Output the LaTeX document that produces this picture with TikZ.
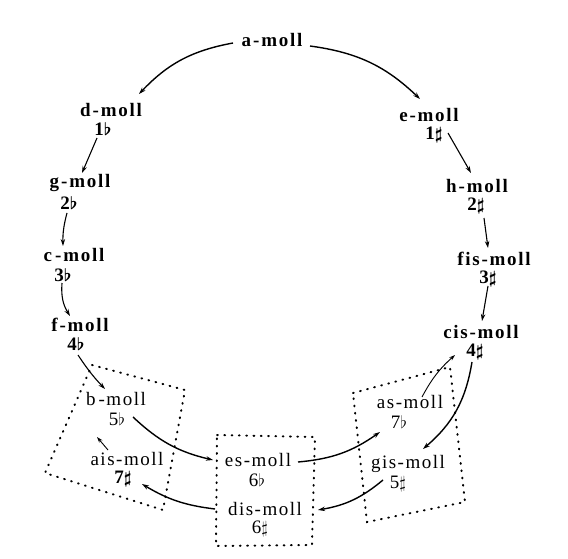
\documentclass[tikz,border=0pt]{standalone}
\usepackage{fontspec}
\usetikzlibrary{arrows.meta,calc}
\newfontfamily\bfam[LetterSpace=9]{Liberation Serif}
\newfontfamily\rfam[LetterSpace=8]{Liberation Serif}
\tikzset{
  bk/.style={font=\fontsize{19}{21}\selectfont\bfam\bfseries\boldmath, inner sep=1pt},
  rk/.style={font=\fontsize{19}{21}\selectfont\rfam, inner sep=1pt},
  arr/.style={-{Stealth[length=7pt,width=4.5pt]}, line width=1.4pt},
  marr/.style={-{Stealth[length=7pt,width=4.5pt]}, line width=1.1pt},
  tarr/.style={-{Stealth[length=6pt,width=4pt]}, line width=0.9pt},
  dotbox/.style={line width=2pt, dash pattern=on 0.8pt off 6.5pt, line cap=round}
}
\begin{document}
\begin{tikzpicture}[x=1pt,y=1pt]
\useasboundingbox (0,0) rectangle (568,558);
% left side
\node[bk] (a) at (272,518) {a\kern2pt-\kern2pt moll};
\node[bk] (d) at (111,448) {d\kern2pt-\kern2pt moll};
\node[bk] (d2) at (103,429) {1$\flat$};
\node[bk] (g) at (80,375) {g\kern2pt-\kern2pt moll};
\node[bk] (g2) at (69,355) {2$\flat$};
\node[bk] (c) at (74,303) {c\kern3pt-\kern2pt moll};
\node[bk] (c2) at (63,283) {3$\flat$};
\node[bk] (f) at (80,233) {f\kern2pt-moll};
\node[bk] (f2) at (76,214) {4$\flat$};
\node[rk] (b) at (116,159) {b\kern3pt-moll};
\node[rk] (b2) at (117,139) {5$\flat$};
\node[rk] (ais) at (127,99) {ais-moll};
\node[bk] (ais2) at (123,79) {7$\sharp$};
% right side
\node[bk] (e) at (429,443) {e-moll};
\node[bk] (e2) at (434,423) {1$\sharp$};
\node[bk] (h) at (477,372) {h\kern2pt-\kern2pt moll};
\node[bk] (h2) at (476,352) {2$\sharp$};
\node[bk] (fis) at (494,299) {fis-moll};
\node[bk] (fis2) at (488,279) {3$\sharp$};
\node[bk] (cis) at (481,226) {cis-moll};
\node[bk] (cis2) at (475,206) {4$\sharp$};
\node[rk] (as) at (410,156) {as-moll};
\node[rk] (as2) at (399,136) {7$\flat$};
\node[rk] (gis) at (408,94) {gis-moll};
\node[rk] (gis2) at (398,74) {5$\sharp$};
% middle
\node[rk] (es) at (258,98) {es-moll};
\node[rk] (es2) at (257,78) {6$\flat$};
\node[rk] (dis) at (265,49) {dis-moll};
\node[rk] (dis2) at (260,29) {6$\sharp$};
\coordinate (aisend) at (97,121);
% dotted frames
\draw[dotbox] (92,193) -- (185,168) -- (163,48) -- (45,85) -- cycle;
\draw[dotbox] (217,123) -- (315,121) -- (312,13) -- (216,12) -- cycle;
\draw[dotbox] (353,165) -- (450,191) -- (465,56) -- (367,36) -- cycle;
% connectors
\draw[arr] ($(a)+(-39,-3)$) to[bend right=18] ($(d)+(28,16)$);
\draw[arr] ($(a)+(38,-6)$) to[bend left=18] ($(e)+(-9,16)$);
\draw[marr] ($(d2)+(-6,-9)$) to ($(g)+(2,10)$);
\draw[marr] ($(g2)+(-2,-10)$) to[bend right=8] ($(c)+(-11,9)$);
\draw[marr] ($(c2)+(-1,-8)$) to[bend right=18] ($(f)+(-10,9)$);
\draw[marr] ($(f2)+(2,-11)$) to[bend right=5] ($(b)+(-11,10)$);
\draw[marr] ($(e2)+(14,2)$) to ($(h)+(-6,13)$);
\draw[marr] ($(h2)+(8,-12)$) to ($(fis)+(-6,11)$);
\draw[marr] ($(fis2)+(0,-7)$) to ($(cis)+(1,11)$);
\draw[arr] ($(cis2)+(-3,-10)$) to[bend left=20] ($(gis)+(15,15)$);
\draw[tarr] ($(as)+(12,5)$) to[bend left=10] ($(cis2)+(-20,-3)$);
\draw[arr] ($(es)+(40,-2)$) to[bend right=15] ($(as2)+(-19,-10)$);
\draw[arr] ($(gis2)+(-15,4)$) to[bend left=15] ($(dis)+(53,-1)$);
\draw[arr] ($(dis)+(-50,0)$) to[bend left=12] ($(ais2)+(19,-5)$);
\draw[arr] ($(b2)+(16,2)$) to[bend right=15] ($(es)+(-45,0)$);
\draw[tarr] ($(ais)+(-19,9)$) -- (aisend);
\end{tikzpicture}
\end{document}
